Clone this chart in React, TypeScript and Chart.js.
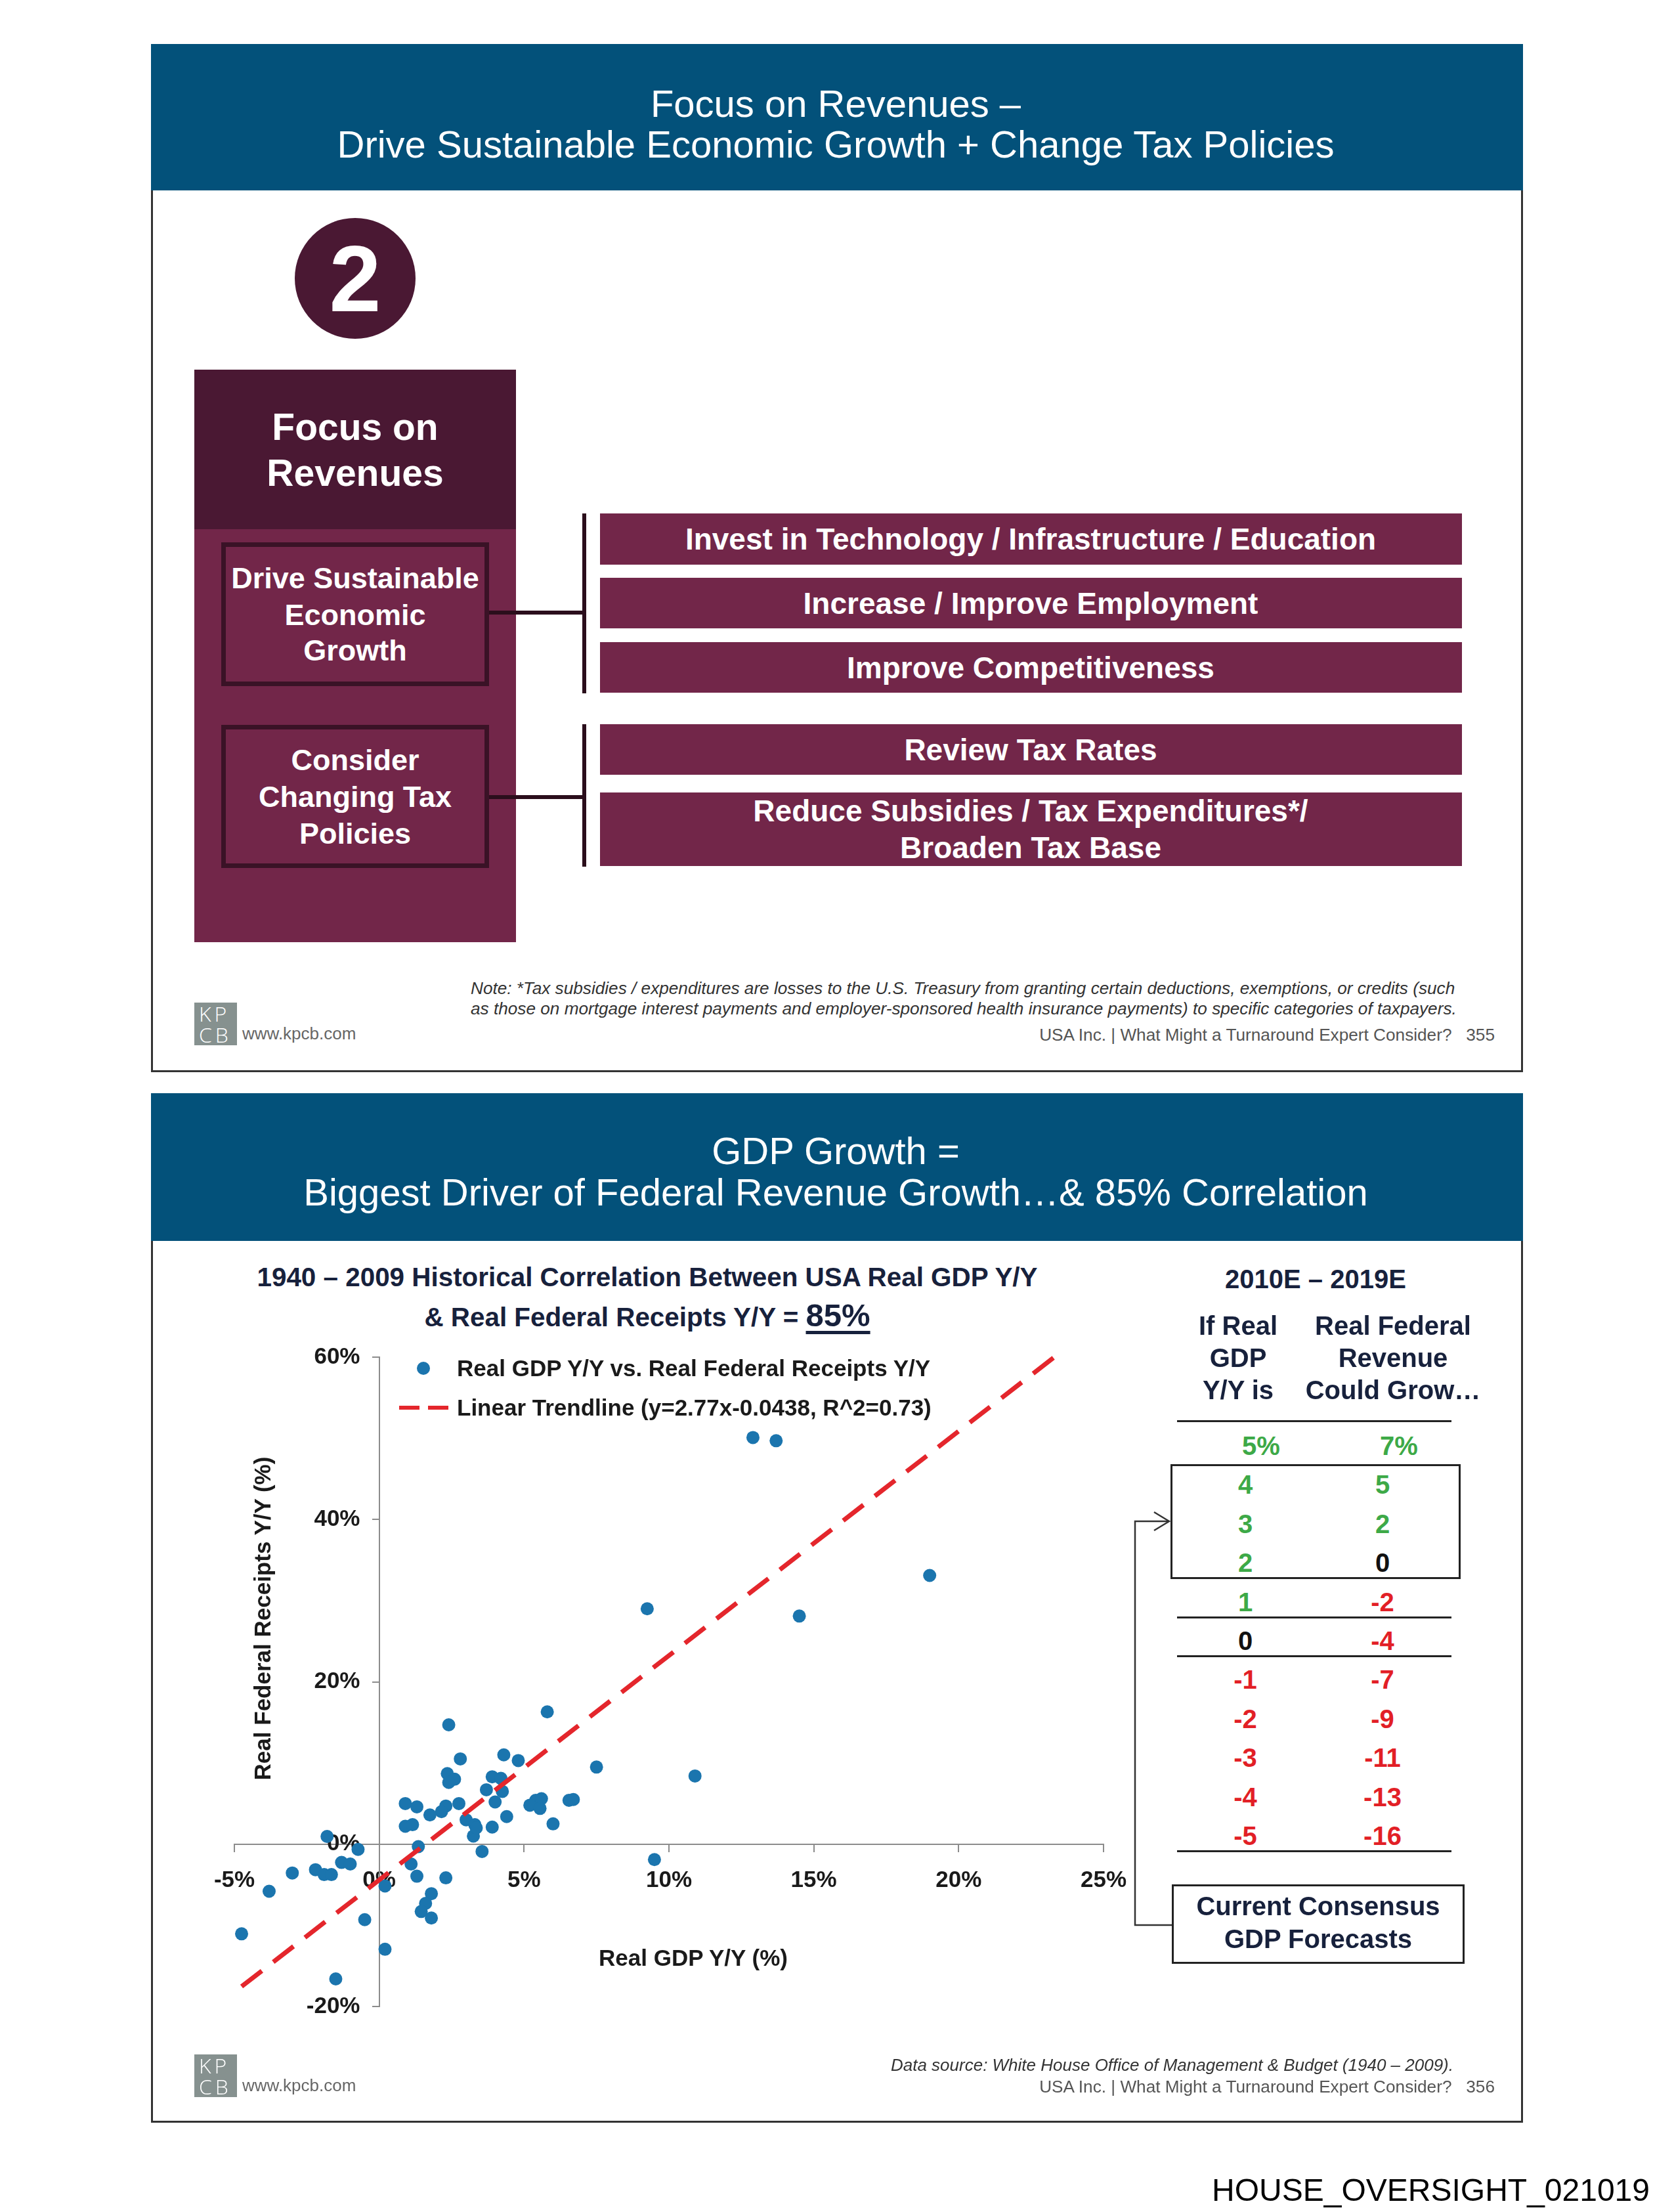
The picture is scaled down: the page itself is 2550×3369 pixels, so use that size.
import React, { useEffect, useRef } from "react";
import { Chart, registerables } from "chart.js";

Chart.register(...registerables);

const FONT = '"Liberation Sans", Arial, Helvetica, sans-serif';

// Scatter data: Real GDP Y/Y (%) vs Real Federal Receipts Y/Y (%), 1940-2009
const gdpYY = [
  12.9, 13.7, 19.0, 9.25, 14.5, 5.8, 2.4, 4.3, 2.8, 4.8, 7.5, 10.9, 2.35, 2.6, 2.4, 3.9, 4.2,
  3.7, 4.25, 4.0, 6.55, 6.7, 5.4, 5.6, 5.2, 5.55, 0.9, 1.3, 2.75, 2.3, 2.15, 1.75, 4.4, 3.0,
  3.3, 6.0, 0.9, 1.15, 3.9, 3.25, 3.35, -1.8, 1.35, 3.55, -0.73, 9.5, -1.3, -1.0, -2.2, -1.9,
  -1.65, -3.0, 1.1, 1.3, 2.3, -3.8, 0.2, 1.8, 1.6, 1.45, 1.8, -0.5, -4.75, 0.2, -1.5,
];
const receiptsYY = [
  50.1, 49.7, 33.1, 29.0, 28.1, 16.3, 14.7, 11.0, 10.5, 10.3, 9.5, 8.4, 8.7, 8.0, 7.6, 8.3, 8.1,
  6.7, 6.5, 5.2, 5.4, 5.5, 5.4, 5.6, 4.8, 4.4, 5.0, 4.6, 5.0, 4.7, 4.0, 3.6, 3.4, 3.0,
  2.4, 2.5, 2.2, 2.4, 2.1, 1.0, 2.0, 0.95, -0.3, -0.9, -0.65, -1.9, -2.25, -2.45, -3.15, -3.75,
  -3.75, -3.55, -2.45, -3.95, -4.15, -5.8, -5.15, -6.1, -7.3, -8.3, -9.1, -9.3, -11.05, -12.95, -16.6,
];
// Linear trendline end points (y = 2.77x - 4.38, in %)
const trendX = [-4.75, 23.3];
const trendY = [-17.54, 60.0];

const xTicks = [-5, 0, 5, 10, 15, 20, 25];
const yTicks = [-20, 0, 20, 40, 60];

// Forecast table
const forecastGdp = [5, 4, 3, 2, 1, 0, -1, -2, -3, -4, -5];
const forecastRevenue = [7, 5, 2, 0, -2, -4, -7, -9, -11, -13, -16];

// Top slide contents
const growthItems = [
  "Invest in Technology / Infrastructure / Education",
  "Increase / Improve Employment",
  "Improve Competitiveness",
];
const taxItems = ["Review Tax Rates", "Reduce Subsidies / Tax Expenditures*/", "Broaden Tax Base"];

const BLUE = "#1B75AE";
const RED = "#E4262C";
const AXIS = "#8C8C8C";
const NAVY = "#17213C";
const HEADER = "#03517A";
const PLUM = "#722649";
const PLUM_DARK = "#4A1833";
const GREEN = "#3DA947";
const TRED = "#E21F26";

type TP = {
  x: number;
  y: number;
  w?: number;
  a?: "left" | "center" | "right";
  s: number;
  b?: boolean;
  i?: boolean;
  c?: string;
  children: React.ReactNode;
};

function T({ x, y, w = 1800, a = "center", s, b, i, c = "#000", children }: TP) {
  const lh = Math.round(s * 1.25);
  const left = a === "center" ? x - w / 2 : a === "right" ? x - w : x;
  return (
    <div
      style={{
        position: "absolute",
        left,
        top: y - lh / 2,
        width: w,
        height: lh,
        lineHeight: lh + "px",
        textAlign: a,
        fontSize: s,
        fontWeight: b ? 700 : 400,
        fontStyle: i ? "italic" : "normal",
        color: c,
        whiteSpace: "nowrap",
        fontFamily: FONT,
      }}
    >
      {children}
    </div>
  );
}

function Box(props: { l: number; t: number; w: number; h: number; bg?: string; border?: string; radius?: string }) {
  return (
    <div
      style={{
        position: "absolute",
        left: props.l,
        top: props.t,
        width: props.w,
        height: props.h,
        background: props.bg || "transparent",
        border: props.border || "none",
        borderRadius: props.radius,
        boxSizing: "border-box",
      }}
    />
  );
}

function Logo({ t }: { t: number }) {
  return (
    <>
      <div
        style={{
          position: "absolute",
          left: 296,
          top: t,
          width: 65,
          height: 65,
          background: "#86918F",
          color: "#fff",
          fontFamily: '"Open Sans", "DejaVu Sans", sans-serif',
          fontWeight: 300,
          fontSize: 32,
          lineHeight: "32px",
          letterSpacing: "5px",
          paddingLeft: 7,
          paddingTop: 1,
          boxSizing: "border-box",
          whiteSpace: "pre",
        }}
      >
        {"KP\nCB"}
      </div>
      <T x={369} y={t + 47} a="left" s={26} c="#666">
        www.kpcb.com
      </T>
    </>
  );
}

const sgn = (v: number) => (v > 0 ? GREEN : v < 0 ? TRED : "#111");

export default function App() {
  const canvasRef = useRef<HTMLCanvasElement | null>(null);

  useEffect(() => {
    document.body.style.margin = "0";
    const points = gdpYY.map((x, i) => ({ x, y: receiptsYY[i] }));
    const trend = trendX.map((x, i) => ({ x, y: trendY[i] }));
    const tickFont = { size: 35, weight: "bold" as const, family: FONT };
    const chart = new Chart(canvasRef.current as HTMLCanvasElement, {
      type: "scatter",
      data: {
        datasets: [
          {
            label: "Linear Trendline (y=2.77x-0.0438, R^2=0.73)",
            data: trend,
            showLine: true,
            borderColor: RED,
            backgroundColor: RED,
            borderWidth: 7,
            borderDash: [39, 22],
            borderCapStyle: "butt",
            pointRadius: 0,
            fill: false,
            order: 0,
            clip: false,
          } as any,
          {
            label: "Real GDP Y/Y vs. Real Federal Receipts Y/Y",
            data: points,
            backgroundColor: BLUE,
            borderWidth: 0,
            pointRadius: 10,
            pointHoverRadius: 10,
            order: 1,
            clip: false,
          } as any,
        ],
      },
      options: {
        responsive: false,
        animation: false,
        devicePixelRatio: 1,
        layout: { padding: { left: 57, right: 58, top: 47, bottom: 44 } },
        plugins: { legend: { display: false }, tooltip: { enabled: false } },
        scales: {
          x: {
            type: "linear",
            position: { y: 0 } as any,
            min: -5,
            max: 25,
            afterBuildTicks: (s: any) => {
              s.ticks = xTicks.map((v) => ({ value: v }));
            },
            ticks: {
              callback: (v: any) => v + "%",
              font: tickFont,
              color: "#1a1a1a",
              padding: 24,
              maxRotation: 0,
              autoSkip: false,
            },
            grid: { drawOnChartArea: false, drawTicks: true, tickLength: 11, color: AXIS, lineWidth: 2 },
            border: { display: true, color: AXIS, width: 2 },
          },
          y: {
            type: "linear",
            position: { x: 0 } as any,
            min: -20,
            max: 60,
            afterBuildTicks: (s: any) => {
              s.ticks = yTicks.map((v) => ({ value: v }));
            },
            ticks: {
              // trailing spaces keep the right-aligned label clear of the axis line
              callback: (v: any) => v + "%   ",
              font: tickFont,
              color: "#1a1a1a",
              padding: 18,
              autoSkip: false,
            },
            grid: { drawOnChartArea: false, drawTicks: true, tickLength: 10, color: AXIS, lineWidth: 2 },
            border: { display: true, color: AXIS, width: 2 },
          },
        },
      },
    });
    return () => chart.destroy();
  }, []);

  const rowY = (i: number) => 2202 + i * 59.4;

  return (
    <div
      style={{
        position: "absolute",
        left: 0,
        top: 0,
        width: 2550,
        height: 3369,
        background: "#fff",
        overflow: "hidden",
        fontFamily: FONT,
      }}
    >
      {/* ================= Slide 1 ================= */}
      <Box l={230} t={67} w={2090} h={1566} border="3px solid #333" />
      <Box l={230} t={67} w={2090} h={223} bg={HEADER} />
      <T x={1273} y={157} s={58} c="#fff">
        Focus on Revenues –
      </T>
      <T x={1273} y={219} s={58} c="#fff">
        Drive Sustainable Economic Growth + Change Tax Policies
      </T>

      <Box l={449} t={332} w={184} h={184} bg={PLUM_DARK} radius="50%" />
      <T x={541} y={425} s={142} b c="#fff">
        2
      </T>

      <Box l={296} t={563} w={490} h={243} bg={PLUM_DARK} />
      <Box l={296} t={806} w={490} h={629} bg={PLUM} />
      <T x={541} y={650} s={57} b c="#fff">
        Focus on
      </T>
      <T x={541} y={720} s={57} b c="#fff">
        Revenues
      </T>

      <Box l={337} t={826} w={408} h={219} border="7px solid #3A1226" />
      <T x={541} y={881} s={45} b c="#fff">
        Drive Sustainable
      </T>
      <T x={541} y={937} s={45} b c="#fff">
        Economic
      </T>
      <T x={541} y={991} s={45} b c="#fff">
        Growth
      </T>

      <Box l={337} t={1104} w={408} h={218} border="7px solid #3A1226" />
      <T x={541} y={1158} s={45} b c="#fff">
        Consider
      </T>
      <T x={541} y={1214} s={45} b c="#fff">
        Changing Tax
      </T>
      <T x={541} y={1270} s={45} b c="#fff">
        Policies
      </T>

      {/* right bars */}
      {[
        [782, 78],
        [880, 77],
        [978, 77],
      ].map(([t, h], i) => (
        <React.Fragment key={"g" + i}>
          <Box l={914} t={t} w={1313} h={h} bg={PLUM} />
          <T x={1570} y={t + h / 2} s={46} b c="#fff">
            {growthItems[i]}
          </T>
        </React.Fragment>
      ))}
      <Box l={914} t={1103} w={1313} h={77} bg={PLUM} />
      <T x={1570} y={1142} s={46} b c="#fff">
        {taxItems[0]}
      </T>
      <Box l={914} t={1207} w={1313} h={112} bg={PLUM} />
      <T x={1570} y={1235} s={46} b c="#fff">
        {taxItems[1]}
      </T>
      <T x={1570} y={1291} s={46} b c="#fff">
        {taxItems[2]}
      </T>

      <T x={717} y={1505} a="left" s={26.2} i c="#333">
        Note: *Tax subsidies / expenditures are losses to the U.S. Treasury from granting certain deductions,
        exemptions, or credits (such
      </T>
      <T x={717} y={1536} a="left" s={26.2} i c="#333">
        as those on mortgage interest payments and employer-sponsored health insurance payments) to specific
        categories of taxpayers.
      </T>
      <Logo t={1527} />
      <T x={2277} y={1576} a="right" s={26.2} c="#555">
        USA Inc. | What Might a Turnaround Expert Consider?&nbsp;&nbsp;&nbsp;355
      </T>

      {/* ================= Slide 2 ================= */}
      <Box l={230} t={1665} w={2090} h={1568} border="3px solid #333" />
      <Box l={230} t={1665} w={2090} h={225} bg={HEADER} />
      <T x={1273} y={1752} s={58} c="#fff">
        GDP Growth =
      </T>
      <T x={1273} y={1815} s={58} c="#fff">
        Biggest Driver of Federal Revenue Growth…&amp; 85% Correlation
      </T>

      <T x={986} y={1945} s={40.4} b c={NAVY}>
        1940 – 2009 Historical Correlation Between USA Real GDP Y/Y
      </T>
      <div
        style={{
          position: "absolute",
          left: 186,
          top: 1972,
          width: 1600,
          height: 62,
          lineHeight: "62px",
          textAlign: "center",
          fontFamily: FONT,
          fontWeight: 700,
          color: NAVY,
          fontSize: 40.4,
          whiteSpace: "nowrap",
        }}
      >
        &amp; Real Federal Receipts Y/Y ={" "}
        <span
          style={{
            fontSize: 49,
            textDecoration: "underline",
            textDecorationThickness: "5px",
            textUnderlineOffset: "7px",
          }}
        >
          85%
        </span>
      </div>

      <canvas
        ref={canvasRef}
        width={1440}
        height={1080}
        style={{ position: "absolute", left: 300, top: 2020, width: 1440, height: 1080 }}
      />

      {/* legend */}
      <div
        style={{
          position: "absolute",
          left: 635,
          top: 2074,
          width: 20,
          height: 20,
          borderRadius: "50%",
          background: BLUE,
        }}
      />
      <T x={696} y={2084} a="left" s={35} b c="#1a1a1a">
        Real GDP Y/Y vs. Real Federal Receipts Y/Y
      </T>
      <Box l={608} t={2141} w={31} h={6} bg={RED} />
      <Box l={652} t={2141} w={31} h={6} bg={RED} />
      <T x={696} y={2144} a="left" s={35} b c="#1a1a1a">
        Linear Trendline (y=2.77x-0.0438, R^2=0.73)
      </T>

      {/* axis titles */}
      <div
        style={{
          position: "absolute",
          left: 400 - 300,
          top: 2465 - 22,
          width: 600,
          height: 44,
          lineHeight: "44px",
          textAlign: "center",
          fontFamily: FONT,
          fontWeight: 700,
          fontSize: 35,
          color: "#1a1a1a",
          transform: "rotate(-90deg)",
          transformOrigin: "50% 50%",
          whiteSpace: "nowrap",
        }}
      >
        Real Federal Receipts Y/Y (%)
      </div>
      <T x={1056} y={2982} s={35} b c="#1a1a1a">
        Real GDP Y/Y (%)
      </T>

      {/* forecast table */}
      <T x={2004} y={1948} s={40} b c={NAVY}>
        2010E – 2019E
      </T>
      <T x={1886} y={2019} s={40} b c={NAVY}>
        If Real
      </T>
      <T x={1886} y={2068} s={40} b c={NAVY}>
        GDP
      </T>
      <T x={1886} y={2117} s={40} b c={NAVY}>
        Y/Y is
      </T>
      <T x={2122} y={2019} s={40} b c={NAVY}>
        Real Federal
      </T>
      <T x={2122} y={2068} s={40} b c={NAVY}>
        Revenue
      </T>
      <T x={2122} y={2117} s={40} b c={NAVY}>
        Could Grow…
      </T>
      <Box l={1793} t={2163} w={418} h={3} bg="#222" />
      <Box l={1783} t={2230} w={442} h={175} border="3px solid #222" />
      <Box l={1793} t={2462} w={418} h={3} bg="#222" />
      <Box l={1793} t={2521} w={418} h={3} bg="#222" />
      <Box l={1793} t={2818} w={418} h={3} bg="#222" />
      {forecastGdp.map((g, i) => (
        <React.Fragment key={"r" + i}>
          <T x={i === 0 ? 1921 : 1897} y={rowY(i)} w={200} s={40} b c={sgn(g)}>
            {i === 0 ? g + "%" : String(g)}
          </T>
          <T x={i === 0 ? 2131 : 2106} y={rowY(i)} w={200} s={40} b c={sgn(forecastRevenue[i])}>
            {i === 0 ? forecastRevenue[i] + "%" : String(forecastRevenue[i])}
          </T>
        </React.Fragment>
      ))}
      <Box l={1785} t={2870} w={446} h={121} border="3px solid #222" />
      <T x={2008} y={2903} s={40} b c={NAVY}>
        Current Consensus
      </T>
      <T x={2008} y={2953} s={40} b c={NAVY}>
        GDP Forecasts
      </T>

      <svg
        width={2550}
        height={3369}
        style={{ position: "absolute", left: 0, top: 0, pointerEvents: "none" }}
      >
        {/* slide 1 connectors */}
        <line x1={745} y1={933} x2={890} y2={933} stroke="#2B0E1C" strokeWidth={6} />
        <line x1={890} y1={782} x2={890} y2={1056} stroke="#2B0E1C" strokeWidth={6} />
        <line x1={745} y1={1214} x2={890} y2={1214} stroke="#2B0E1C" strokeWidth={6} />
        <line x1={890} y1={1103} x2={890} y2={1320} stroke="#2B0E1C" strokeWidth={6} />
        {/* slide 2 arrow */}
        <polyline
          points="1785,2932 1729,2932 1729,2317 1779,2317"
          fill="none"
          stroke="#333"
          strokeWidth={2.5}
        />
        <polyline points="1758,2303 1781,2317 1758,2331" fill="none" stroke="#333" strokeWidth={2.5} />
      </svg>

      <T x={2214} y={3145} a="right" s={26} i c="#333">
        Data source: White House Office of Management &amp; Budget (1940 – 2009).
      </T>
      <Logo t={3129} />
      <T x={2277} y={3178} a="right" s={26.2} c="#555">
        USA Inc. | What Might a Turnaround Expert Consider?&nbsp;&nbsp;&nbsp;356
      </T>

      <T x={2513} y={3336} a="right" s={48} c="#000">
        HOUSE_OVERSIGHT_021019
      </T>
    </div>
  );
}
